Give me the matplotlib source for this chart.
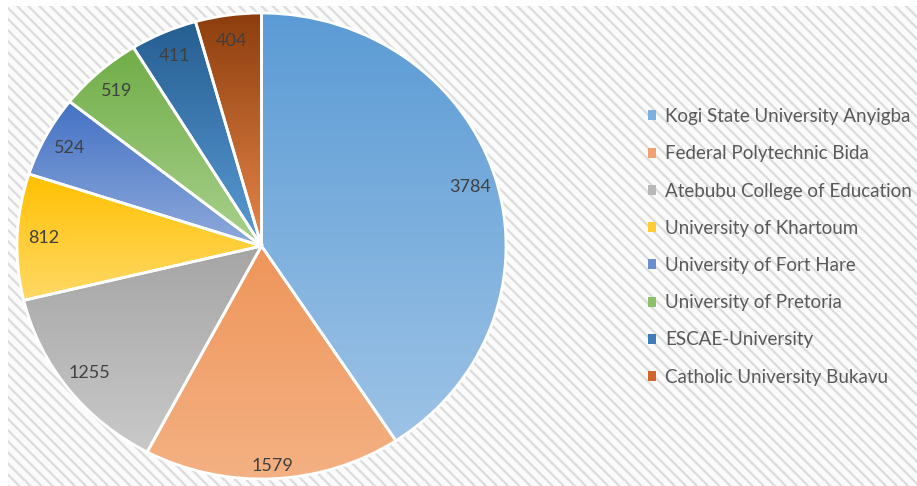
import numpy as np
import matplotlib
matplotlib.use("Agg")
import matplotlib.pyplot as plt
from matplotlib.colors import to_rgb
from matplotlib.patches import Rectangle, Patch

plt.rcParams['font.family'] = ['Lato', 'DejaVu Sans']
plt.rcParams['hatch.linewidth'] = 1.6

universidades = ['Kogi State University Anyigba', 'Federal Polytechnic Bida',
                 'Atebubu College of Education', 'University of Khartoum',
                 'University of Fort Hare', 'University of Pretoria',
                 'ESCAE-University', 'Catholic University Bukavu']
valores = [3784, 1579, 1255, 812, 524, 519, 411, 404]

# colores degradados (arriba -> abajo) estilo Excel
color_arriba = ['#5B9BD5', '#EF955A', '#A5A5A5', '#FFC000', '#4472C4', '#70AD47', '#255E91', '#8C3D0D']
color_abajo = ['#9DC3E6', '#F4B183', '#C9C9C9', '#FFD966', '#8FAADC', '#A9D18E', '#5B9BD5', '#E8874A']
color_leyenda = ['#7DB0E0', '#F2A070', '#B8B8B8', '#FFCC33', '#6A8FD0', '#8DC06A', '#3F7CB8', '#D0662A']

fig = plt.figure(figsize=(9.17, 4.86), dpi=100)

# fondo rayado
fondo = Rectangle((8 / 917, 0), 1 - 8 / 917, 1 - 6 / 486, transform=fig.transFigure,
                  facecolor='#FBFBFB', edgecolor='#DCDCDC', linewidth=0, hatch='\\\\\\', zorder=-10)
fig.patches.append(fondo)

ax = fig.add_axes([17 / 917, 7 / 486, 489 / 917, 466 / 486])
ax.patch.set_visible(False)

wedges, textos = ax.pie(valores, startangle=90, counterclock=False,
                        labels=[str(v) for v in valores], labeldistance=0.89,
                        wedgeprops=dict(edgecolor='white', linewidth=2, facecolor='none'),
                        textprops=dict(fontsize=13, color='#404040'))
for t in textos:
    t.set_ha('center')
    t.set_va('center')
# la etiqueta de 1579 va un poco mas abajo
textos[1].set_position((textos[1].get_position()[0] * 1.05, textos[1].get_position()[1] * 1.06))

for w, c1, c2 in zip(wedges, color_arriba, color_abajo):
    ext = w.get_path().get_extents()
    a = np.array(to_rgb(c1))
    b = np.array(to_rgb(c2))
    s = np.linspace(0, 1, 256)[:, None]
    grad = (a * (1 - s) + b * s)[:, None, :]
    img = ax.imshow(grad, extent=[ext.x0, ext.x1, ext.y0, ext.y1], aspect='auto',
                    origin='upper', zorder=0.5)
    img.set_clip_path(w)

ax.set_xlim(-1, 1)
ax.set_ylim(-1, 1)
ax.set_aspect('auto')
ax.axis('off')

handles = [Patch(facecolor=c, edgecolor='none') for c in color_leyenda]
fig.legend(handles, universidades, loc='upper left', bbox_to_anchor=(648 / 917, 1 - 108 / 486),
           frameon=False, fontsize=13.5, labelcolor='#595959', labelspacing=1.08,
           handlelength=0.45, handleheight=0.45, handletextpad=0.48, borderpad=0, borderaxespad=0)

fig.savefig('out.png', dpi=100)
